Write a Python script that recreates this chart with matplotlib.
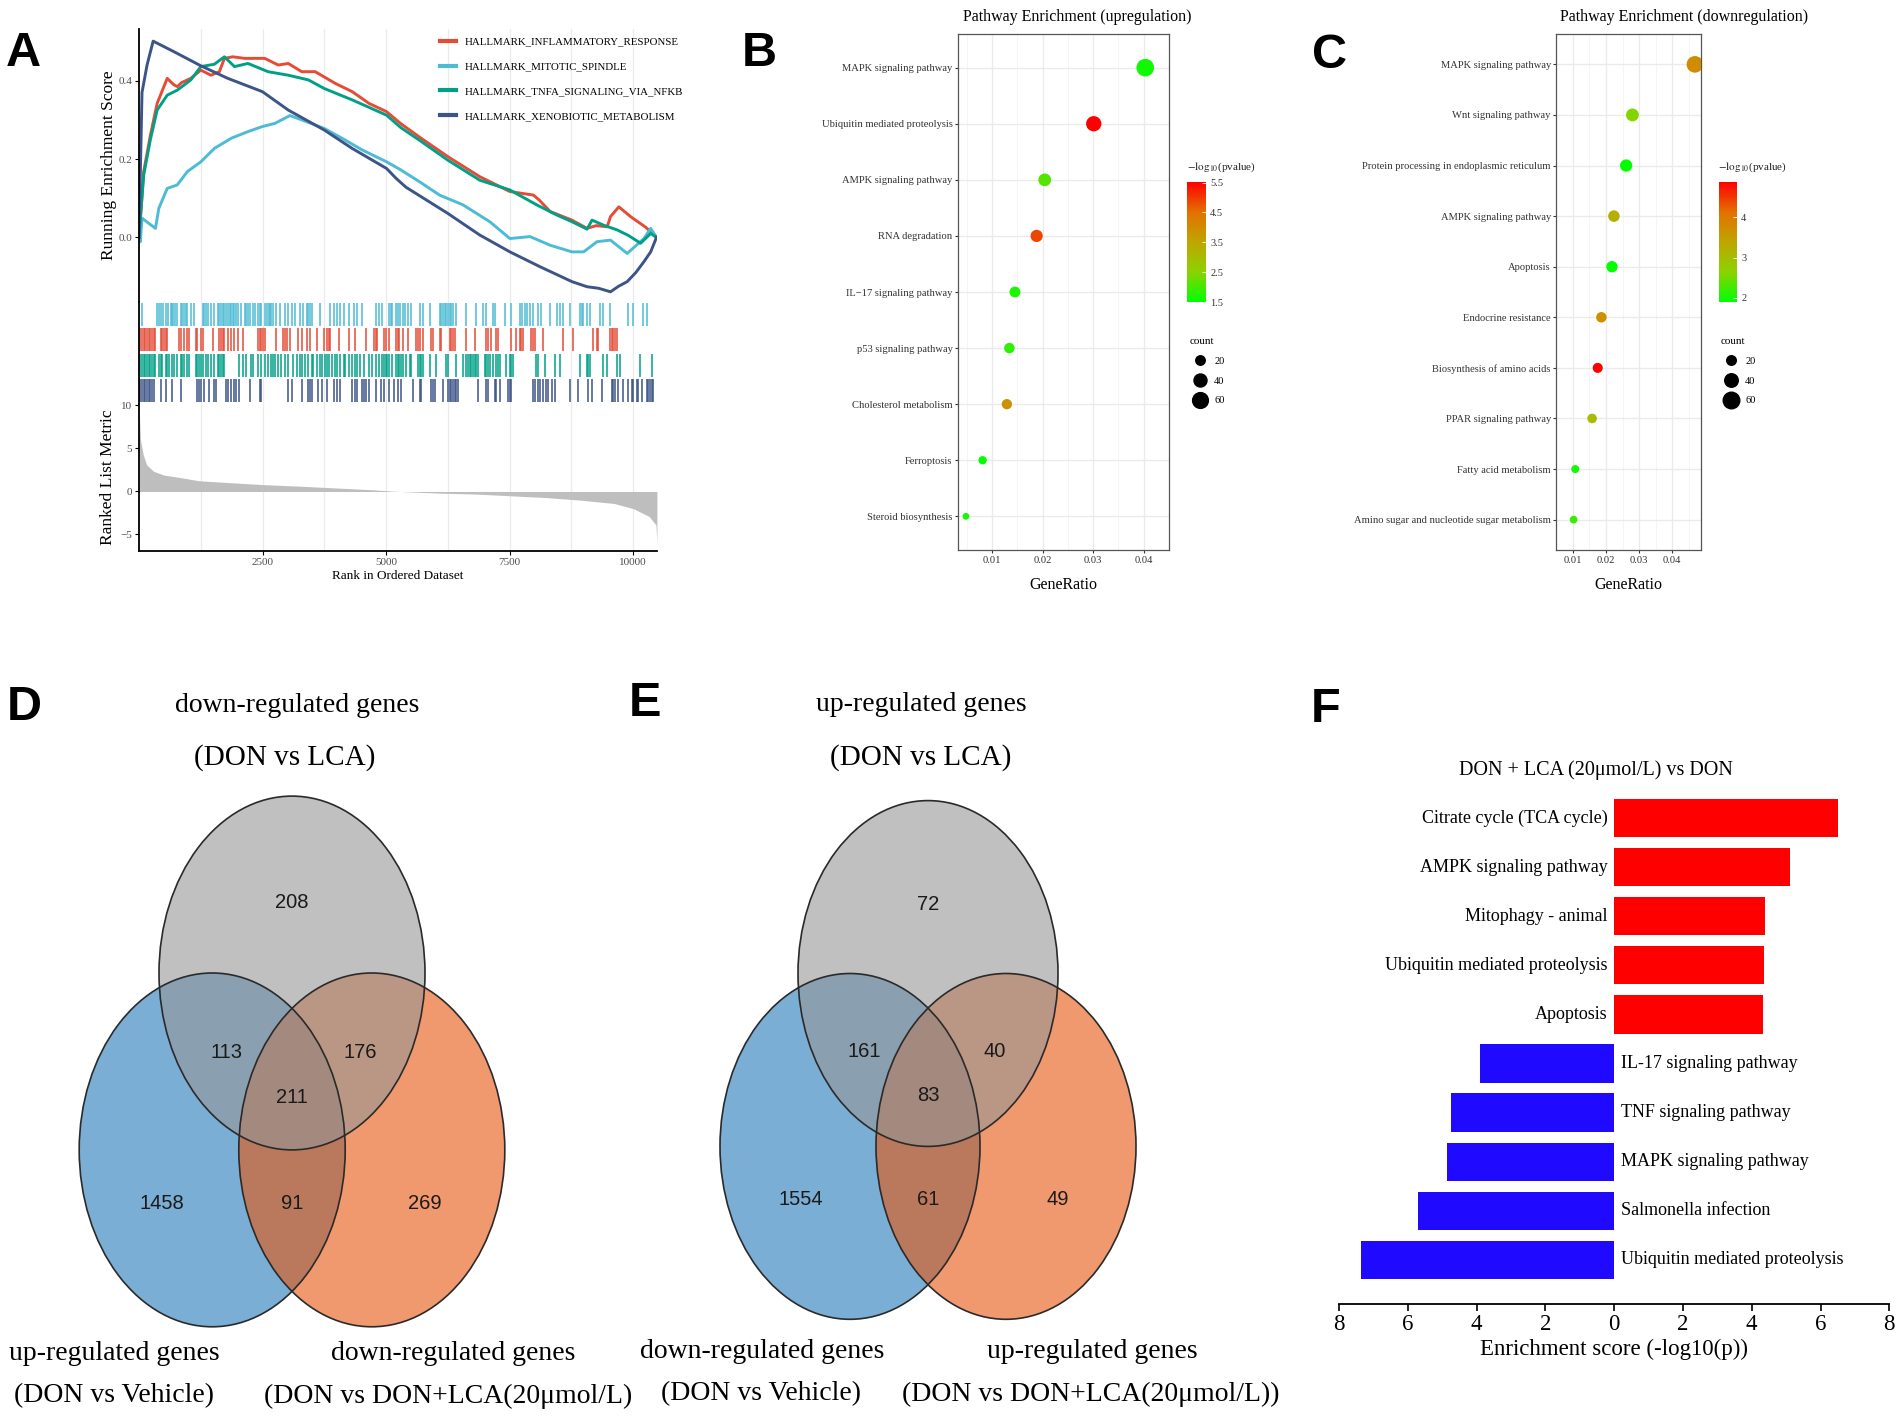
import numpy as np
import matplotlib
matplotlib.use('Agg')
import matplotlib.pyplot as plt
from matplotlib.patches import Ellipse
from matplotlib.colors import LinearSegmentedColormap, Normalize
from matplotlib.cm import ScalarMappable
from matplotlib.lines import Line2D

plt.rcParams['font.family'] = ['Liberation Serif', 'DejaVu Serif']
plt.rcParams['mathtext.fontset'] = 'stix'

# ---------------- data ----------------
# A: GSEA running enrichment score
n_genes = 10480
gsea_names = ['HALLMARK_INFLAMMATORY_RESPONSE', 'HALLMARK_MITOTIC_SPINDLE',
              'HALLMARK_TNFA_SIGNALING_VIA_NFKB', 'HALLMARK_XENOBIOTIC_METABOLISM']
gsea_colors = ['#E64B35', '#4DBBD5', '#00A087', '#3C5488']

red_rank = [0, 95, 231, 367, 571, 700, 776, 860, 1048, 1252, 1456, 1626, 1728, 1898, 2136, 2544, 2817,
            3020, 3293, 3565, 3973, 4314, 4654, 5008, 5300, 5709, 6250, 6894, 7504, 7979, 8100, 8318,
            8759, 9064, 9250, 9472, 9539, 9708, 9945, 10250, 10470]
red_es = [0, 0.168, 0.261, 0.342, 0.406, 0.39, 0.385, 0.395, 0.406, 0.427, 0.414, 0.423, 0.457, 0.461,
          0.457, 0.457, 0.44, 0.444, 0.423, 0.423, 0.393, 0.372, 0.342, 0.321, 0.29, 0.253, 0.206, 0.155,
          0.117, 0.108, 0.095, 0.066, 0.044, 0.023, 0.03, 0.027, 0.053, 0.078, 0.053, 0.026, 0.0]

cyan_rank = [0, 27, 61, 333, 401, 571, 775, 979, 1252, 1524, 1864, 2204, 2497, 2749, 3054, 3293, 3749,
             4110, 4518, 5008, 5300, 5700, 6080, 6555, 7097, 7504, 7911, 8318, 8759, 8996, 9267, 9539,
             9877, 10216, 10352, 10470]
cyan_es = [0.0, -0.011, 0.049, 0.023, 0.074, 0.125, 0.134, 0.168, 0.193, 0.227, 0.253, 0.27, 0.283, 0.291,
           0.311, 0.3, 0.278, 0.253, 0.223, 0.193, 0.172, 0.14, 0.108, 0.083, 0.04, -0.003, 0.002, -0.02,
           -0.037, -0.037, -0.011, -0.007, -0.041, -0.003, 0.023, 0.0]

green_rank = [0, 95, 231, 367, 571, 776, 1048, 1252, 1524, 1728, 1932, 2204, 2612, 3020, 3428, 3749, 4314,
              5008, 5300, 5709, 6250, 6894, 7504, 8047, 8454, 8759, 9064, 9166, 9403, 9674, 9900, 10149,
              10352, 10470]
green_es = [0, 0.159, 0.25, 0.325, 0.363, 0.376, 0.402, 0.436, 0.442, 0.461, 0.436, 0.444, 0.423, 0.414,
            0.402, 0.38, 0.351, 0.312, 0.28, 0.245, 0.197, 0.146, 0.121, 0.083, 0.057, 0.04, 0.021, 0.044,
            0.031, 0.019, 0.005, -0.015, 0.01, 0.0]

navy_rank = [0, 61, 163, 286, 708, 1252, 1796, 2497, 3020, 3749, 4314, 5008, 5199, 5402, 6250, 6894, 7504,
             8114, 8759, 9064, 9300, 9539, 9700, 9877, 10050, 10216, 10352, 10470]
navy_es = [0, 0.37, 0.44, 0.501, 0.474, 0.438, 0.406, 0.372, 0.325, 0.274, 0.227, 0.176, 0.151, 0.128,
           0.061, 0.006, -0.037, -0.075, -0.113, -0.126, -0.13, -0.139, -0.125, -0.113, -0.09, -0.062,
           -0.037, 0.0]

# hit positions of each gene set (rug rows, top to bottom: spindle, inflammatory, tnfa, xenobiotic)
cyan_hits = [61, 367, 401, 449, 490, 537, 585, 639, 666, 694, 728, 775, 843, 877, 911, 945, 979, 1047, 1115,
             1285, 1319, 1353, 1387, 1455, 1523, 1591, 1625, 1659, 1693, 1727, 1761, 1809, 1836, 1863, 1897,
             1931, 1965, 1999, 2067, 2135, 2169, 2203, 2237, 2305, 2353, 2407, 2441, 2475, 2557, 2591, 2625,
             2652, 2679, 2713, 2781, 2849, 2951, 3019, 3087, 3155, 3257, 3325, 3393, 3427, 3461, 3495, 3665,
             3869, 3937, 4005, 4073, 4141, 4243, 4345, 4413, 4515, 4787, 4855, 4923, 5059, 5093, 5127, 5195,
             5236, 5283, 5337, 5391, 5439, 5506, 5675, 5743, 5878, 6081, 6115, 6149, 6182, 6216, 6250, 6284,
             6318, 6351, 6405, 6622, 6825, 6960, 7027, 7163, 7196, 7399, 7534, 7703, 7757, 7805, 7852, 7906,
             7974, 8075, 8143, 8312, 8447, 8515, 8582, 8717, 8920, 8954, 8988, 9055, 9123, 9326, 9393, 9529,
             9900, 10002, 10205, 10272]
red_hits = [27, 61, 95, 129, 163, 197, 231, 265, 299, 333, 435, 469, 503, 537, 571, 809, 843, 911, 979, 1013,
            1149, 1183, 1251, 1285, 1489, 1625, 1659, 1693, 1727, 1795, 1863, 1931, 1999, 2101, 2407, 2441,
            2475, 2509, 2543, 2781, 2917, 2951, 2985, 3053, 3223, 3291, 3393, 3461, 3597, 3733, 3801, 3835,
            3869, 4039, 4243, 4379, 4583, 4753, 4787, 4821, 4957, 4991, 5059, 5195, 5236, 5270, 5337, 5439,
            5608, 5642, 5675, 5743, 5912, 5946, 6081, 6115, 6284, 6318, 6351, 6385, 6622, 6791, 7027, 7061,
            7129, 7230, 7264, 7534, 7636, 7703, 7737, 7771, 7940, 7974, 8008, 8177, 8582, 8785, 9191, 9258,
            9292, 9529, 9562, 9596, 9630, 9664]
green_hits = [27, 61, 95, 129, 163, 197, 231, 265, 299, 333, 401, 435, 469, 537, 571, 605, 673, 707, 775, 843,
              877, 911, 979, 1013, 1149, 1183, 1217, 1251, 1285, 1353, 1387, 1455, 1523, 1591, 1625, 1659,
              1693, 1727, 2033, 2101, 2169, 2271, 2305, 2407, 2475, 2543, 2611, 2679, 2713, 2747, 2815, 2883,
              2951, 3019, 3121, 3189, 3257, 3291, 3359, 3427, 3495, 3529, 3597, 3665, 3699, 3767, 3801, 3835,
              3903, 3971, 4005, 4073, 4141, 4175, 4243, 4311, 4379, 4413, 4481, 4549, 4651, 4719, 4787, 4855,
              4923, 4957, 4991, 5025, 5059, 5127, 5195, 5236, 5270, 5304, 5337, 5405, 5473, 5506, 5642, 5675,
              5709, 5743, 5878, 6013, 6216, 6250, 6419, 6554, 6622, 6656, 6689, 6723, 6757, 6791, 6825, 6858,
              6994, 7027, 7061, 7095, 7163, 7230, 7264, 7298, 7433, 7501, 7534, 7568, 8041, 8075, 8210, 8413,
              8515, 8920, 9055, 9089, 9123, 9393, 9461, 9664, 9731, 10137, 10374]
navy_hits = [7, 27, 61, 95, 129, 163, 197, 231, 265, 299, 435, 537, 673, 843, 1183, 1217, 1251, 1319, 1421,
             1523, 1557, 1761, 1795, 1863, 1931, 1965, 2033, 2237, 2441, 2475, 3019, 3087, 3291, 3427, 3461,
             3495, 3631, 3699, 3801, 3937, 4005, 4073, 4311, 4379, 4413, 4515, 4549, 4583, 4651, 4787, 4889,
             4957, 5059, 5161, 5236, 5304, 5540, 5675, 5709, 5912, 5946, 5980, 6149, 6250, 6284, 6318, 6351,
             6385, 6419, 6453, 6858, 7027, 7061, 7196, 7230, 7298, 7467, 7501, 7534, 7974, 8008, 8075, 8109,
             8177, 8244, 8278, 8346, 8413, 8717, 8886, 9089, 9157, 9360, 9562, 9596, 9630, 9697, 9799, 9900,
             9968, 10002, 10069, 10103, 10170, 10272, 10305, 10339, 10373, 10407]

# ranked list metric
rm_rank = [1, 28, 84, 154, 294, 505, 855, 1206, 1907, 2503, 3309, 4010, 4711, 5272, 6113, 6814, 7515,
           8216, 8917, 9618, 10003, 10319, 10459, 10478]
rm_val = [10.2, 6.1, 4.3, 3.1, 2.35, 1.9, 1.6, 1.25, 1.0, 0.8, 0.6, 0.4, 0.2, 0.0, -0.2, -0.3, -0.5, -0.7,
          -1.0, -1.4, -2.0, -2.9, -3.9, -6.1]

# B: KEGG upregulation
b_terms = ['MAPK signaling pathway', 'Ubiquitin mediated proteolysis', 'AMPK signaling pathway',
           'RNA degradation', 'IL\u221217 signaling pathway', 'p53 signaling pathway',
           'Cholesterol metabolism', 'Ferroptosis', 'Steroid biosynthesis']
b_ratio = [0.0403, 0.0301, 0.0204, 0.0188, 0.0145, 0.0134, 0.0129, 0.0081, 0.0048]
b_count = [75, 56, 38, 35, 27, 25, 24, 15, 9]
b_logp = [1.62, 5.52, 2.1, 4.9, 1.7, 1.82, 3.9, 1.5, 1.66]

# C: KEGG downregulation
c_terms = ['MAPK signaling pathway', 'Wnt signaling pathway', 'Protein processing in endoplasmic reticulum',
           'AMPK signaling pathway', 'Apoptosis', 'Endocrine resistance', 'Biosynthesis of amino acids',
           'PPAR signaling pathway', 'Fatty acid metabolism', 'Amino sugar and nucleotide sugar metabolism']
c_ratio = [0.0469, 0.0280, 0.0261, 0.0224, 0.0218, 0.0186, 0.0175, 0.0158, 0.0107, 0.0102]
c_count = [60, 36, 33, 29, 28, 24, 22, 20, 14, 13]
c_logp = [3.75, 2.6, 1.9, 3.23, 1.92, 3.68, 4.88, 3.03, 2.01, 2.19]

# D / E: Venn region counts (top only, top&left, top&right, all, left only, left&right, right only)
d_counts = [208, 113, 176, 211, 1458, 91, 269]
e_counts = [72, 161, 40, 83, 1554, 61, 49]

# F: enrichment scores
f_up_terms = ['Citrate cycle (TCA cycle)', 'AMPK signaling pathway', 'Mitophagy - animal',
              'Ubiquitin mediated proteolysis', 'Apoptosis']
f_up_scores = [6.5, 5.11, 4.40, 4.35, 4.32]
f_down_terms = ['IL-17 signaling pathway', 'TNF signaling pathway', 'MAPK signaling pathway',
                'Salmonella infection', 'Ubiquitin mediated proteolysis']
f_down_scores = [3.89, 4.73, 4.86, 5.71, 7.35]

# ---------------- figure ----------------
W, H = 1902, 1427
fig = plt.figure(figsize=(W / 100, H / 100), dpi=100)

def box(x0, y0, x1, y1):
    return fig.add_axes([x0 / W, 1 - y1 / H, (x1 - x0) / W, (y1 - y0) / H])

def ftext(x, y, s, **kw):
    return fig.text(x / W, 1 - y / H, s, **kw)

# layer for venn shapes (pixel coords)
lay = fig.add_axes([0, 0, 1, 1])
lay.set_xlim(0, W)
lay.set_ylim(H, 0)
lay.axis('off')

grey_txt = '#4D4D4D'

# ---------- A ----------
ax_es = box(139, 29, 657, 302)
ax_rug = box(139, 302, 657, 404)
ax_rm = box(139, 404, 657, 551)

for ax in (ax_es, ax_rug, ax_rm):
    ax.set_xlim(0, n_genes)
    ax.set_xticks(np.arange(2500, 10001, 2500))
    ax.set_xticks(np.arange(1250, 10001, 2500), minor=True)
    ax.grid(axis='x', which='both', color='#EBEBEB', lw=0.9)
    ax.set_axisbelow(True)
    for s in ('top', 'right'):
        ax.spines[s].set_visible(False)
    ax.spines['left'].set_linewidth(1.3)

for r, e, c, name in zip([red_rank, cyan_rank, green_rank, navy_rank],
                         [red_es, cyan_es, green_es, navy_es], gsea_colors, gsea_names):
    ax_es.plot(r, e, color=c, lw=2.1, label=name)
ax_es.set_ylim(-0.165, 0.532)
ax_es.set_yticks([0.0, 0.2, 0.4])
ax_es.set_yticklabels(['0.0', '0.2', '0.4'])
ax_es.spines['bottom'].set_visible(False)
ax_es.tick_params(axis='x', which='both', length=0, labelbottom=False)
ax_es.tick_params(axis='y', labelsize=8, labelcolor=grey_txt, length=3, pad=2)
ax_es.set_ylabel('Running Enrichment Score', fontsize=12.5, labelpad=1)

leg = ax_es.legend(loc='upper left', bbox_to_anchor=(440 / W, 1 - 37 / H), bbox_transform=fig.transFigure,
                   frameon=False, fontsize=7.8, handlelength=1.5, handletextpad=0.8, labelspacing=1.4,
                   borderpad=0, borderaxespad=0)
for ln in leg.get_lines():
    ln.set_linewidth(3)

rug_sets = [cyan_hits, red_hits, green_hits, navy_hits]
rug_cols = [gsea_colors[1], gsea_colors[0], gsea_colors[2], gsea_colors[3]]
for i, (hits, c) in enumerate(zip(rug_sets, rug_cols)):
    ax_rug.vlines(hits, 3 - i + 0.06, 4 - i - 0.02, color=c, lw=1.1)
ax_rug.set_ylim(0, 4)
ax_rug.set_yticks([])
ax_rug.spines['bottom'].set_visible(False)
ax_rug.tick_params(axis='x', which='both', length=0, labelbottom=False)

ax_rm.fill_between(rm_rank, rm_val, 0, color='#BEBEBE', lw=0)
ax_rm.set_ylim(-6.92, 10.17)
ax_rm.set_yticks([-5, 0, 5, 10])
ax_rm.spines['bottom'].set_linewidth(1.3)
ax_rm.tick_params(axis='both', labelsize=8, labelcolor=grey_txt, length=3, pad=2)
ax_rm.tick_params(axis='x', which='minor', length=0)
ax_rm.set_ylabel('Ranked List Metric', fontsize=12.5, labelpad=3)
ax_rm.set_xlabel('Rank in Ordered Dataset', fontsize=9.5, labelpad=2)

# ---------- B / C ----------
cmap = LinearSegmentedColormap.from_list('gr', ['#00FF00', '#8CD200', '#BFA500', '#E37000', '#FF0000'])

def dotplot(ax, terms, ratio, count, logp, xlim, a, b):
    y = np.arange(1, len(terms) + 1)
    norm = Normalize(min(logp), max(logp))
    ax.scatter(ratio, y, s=0.5184 * (a + b * np.asarray(count)), c=logp, cmap=cmap, norm=norm,
               zorder=3, linewidths=0)
    ax.set_xlim(*xlim)
    ax.set_ylim(len(terms) + 0.6, 0.4)
    ax.set_yticks(y)
    ax.set_yticklabels(terms)
    ticks = [0.01, 0.02, 0.03, 0.04]
    ax.set_xticks(ticks)
    ax.set_xticklabels(['%.2f' % t for t in ticks])
    ax.set_xticks([0.005, 0.015, 0.025, 0.035, 0.045], minor=True)
    ax.grid(which='major', color='#EBEBEB', lw=1.0)
    ax.grid(which='minor', axis='x', color='#F4F4F4', lw=0.6)
    ax.set_axisbelow(True)
    ax.tick_params(which='minor', length=0)
    ax.tick_params(which='major', labelsize=7.6, labelcolor='#333333', length=2.5, width=0.8,
                   color='#333333', pad=1.5)
    for s in ax.spines.values():
        s.set_color('#555555')
        s.set_linewidth(0.9)
    ax.set_xlabel('GeneRatio', fontsize=11.5, labelpad=9)
    return norm

def side_legends(norm, cb_box, cb_ticks, leg_x, leg_y, a, b):
    cax = box(*cb_box)
    cb = fig.colorbar(ScalarMappable(norm=norm, cmap=cmap), cax=cax)
    cb.outline.set_visible(False)
    cb.set_ticks(cb_ticks)
    cb.set_ticklabels([('%g' % t) for t in cb_ticks])
    cax.tick_params(labelsize=7.5, labelcolor='#333333', length=3, width=0.6, color='white',
                    direction='in', pad=3)
    ftext(cb_box[0], cb_box[1] - 15, r'$-\mathrm{log}_{10}$(pvalue)', fontsize=8, va='center',
          color='#222222')
    handles = [Line2D([], [], ls='none', marker='o', color='black',
                      markersize=np.sqrt(a + b * c) * 0.72) for c in (20, 40, 60)]
    fig.legend(handles, ['20', '40', '60'], title='count', loc='upper left',
               bbox_to_anchor=(leg_x / W, 1 - leg_y / H), frameon=False, fontsize=7.5, title_fontsize=8,
               labelspacing=1.0, handletextpad=0.4, borderpad=0, alignment='left')

ax_b = box(958, 34, 1169, 550)
nb = dotplot(ax_b, b_terms, b_ratio, b_count, b_logp, (0.00323, 0.04216), 10.0, 4.0)
ftext(1077, 17, 'Pathway Enrichment (upregulation)', fontsize=11.5, ha='center', va='center')
side_legends(nb, (1187, 182, 1206, 302), [1.5, 2.5, 3.5, 4.5, 5.5], 1184, 332, 10.0, 4.0)

ax_c = box(1556.4, 34, 1701.2, 550)
nc = dotplot(ax_c, c_terms, c_ratio, c_count, c_logp, (0.00838, 0.0488), 0.0, 4.6)
ftext(1684, 17, 'Pathway Enrichment (downregulation)', fontsize=11.5, ha='center', va='center')
side_legends(nc, (1718.5, 182, 1737, 302), [2, 3, 4], 1715, 332, 0.0, 4.6)

# ---------- D / E ----------
venn_offsets = [(0, -0.53), (-0.49, 0.60), (0.51, 0.60), (0.0, 0.935),
                (-0.98, 1.735), (0.0, 1.735), (1.0, 1.735)]

def venn(cx, cy, rx, counts):
    ry = 1.33 * rx
    circ = [((cx - 0.6 * rx, cy + ry), '#2178B9'), ((cx + 0.6 * rx, cy + ry), '#E6550D'),
            ((cx, cy), '#969696')]
    for (x, y), col in circ:
        lay.add_patch(Ellipse((x, y), 2 * rx, 2 * ry, facecolor=col, alpha=0.6, edgecolor='none'))
    for (x, y), col in circ:
        lay.add_patch(Ellipse((x, y), 2 * rx, 2 * ry, facecolor='none', edgecolor='#2A2A2A', lw=1.2))
    for (ox, oy), n in zip(venn_offsets, counts):
        lay.text(cx + ox * rx, cy + oy * rx, str(n), ha='center', va='center', fontsize=14.5,
                 family=['Liberation Sans'], color='#1A1A1A')

venn(292, 973, 133, d_counts)
ftext(297, 706, 'down-regulated genes', fontsize=20, ha='center', va='center')
ftext(285, 758, '(DON vs LCA)', fontsize=21, ha='center', va='center')
ftext(114, 1353, 'up-regulated genes', fontsize=20, ha='center', va='center')
ftext(114, 1396, '(DON vs Vehicle)', fontsize=20, ha='center', va='center')
ftext(453, 1353, 'down-regulated genes', fontsize=20, ha='center', va='center')
ftext(448, 1396, '(DON vs DON+LCA(20\u03bcmol/L)', fontsize=20, ha='center', va='center')

venn(928, 973.5, 130, e_counts)
ftext(921, 704, 'up-regulated genes', fontsize=20, ha='center', va='center')
ftext(921, 758, '(DON vs LCA)', fontsize=21, ha='center', va='center')
ftext(762, 1351, 'down-regulated genes', fontsize=20, ha='center', va='center')
ftext(761, 1394, '(DON vs Vehicle)', fontsize=20, ha='center', va='center')
ftext(1092, 1351, 'up-regulated genes', fontsize=20, ha='center', va='center')
ftext(1091, 1394, '(DON vs DON+LCA(20\u03bcmol/L))', fontsize=20, ha='center', va='center')

# ---------- F ----------
ax_f = box(1339, 788.6, 1889.3, 1304)
yu = np.arange(len(f_up_terms))
yd = np.arange(len(f_up_terms), len(f_up_terms) + len(f_down_terms))
ax_f.barh(yu, f_up_scores, height=0.78, color='#FF0000')
ax_f.barh(yd, [-v for v in f_down_scores], height=0.78, color='#1F0AFF')
for y, t in zip(yu, f_up_terms):
    ax_f.text(-0.2, y, t, ha='right', va='center', fontsize=13)
for y, t in zip(yd, f_down_terms):
    ax_f.text(0.2, y, t, ha='left', va='center', fontsize=13)
ax_f.set_xlim(-8, 8)
ax_f.set_ylim(len(yu) + len(yd) - 0.1, -0.6)
ax_f.set_xticks(np.arange(-8, 9, 2))
ax_f.set_xticklabels([str(abs(v)) for v in range(-8, 9, 2)])
ax_f.set_yticks([])
for s in ('top', 'right', 'left'):
    ax_f.spines[s].set_visible(False)
ax_f.spines['bottom'].set_linewidth(1.3)
ax_f.tick_params(axis='x', labelsize=16.5, length=5, width=1.2, pad=2)
ax_f.set_xlabel('Enrichment score (-log10(p))', fontsize=16.5, labelpad=3)
ftext(1596, 770, 'DON + LCA (20\u03bcmol/L) vs DON', fontsize=14.5, ha='center', va='center')

# ---------- panel letters ----------
for lab, x, y in [('A', 23, 54), ('B', 759, 54), ('C', 1330, 56), ('D', 24, 707), ('E', 645, 703),
                  ('F', 1326, 710)]:
    ftext(x, y, lab, fontsize=35, fontweight='bold', family=['Liberation Sans'], ha='center', va='center')

fig.savefig('out.png', dpi=100)
